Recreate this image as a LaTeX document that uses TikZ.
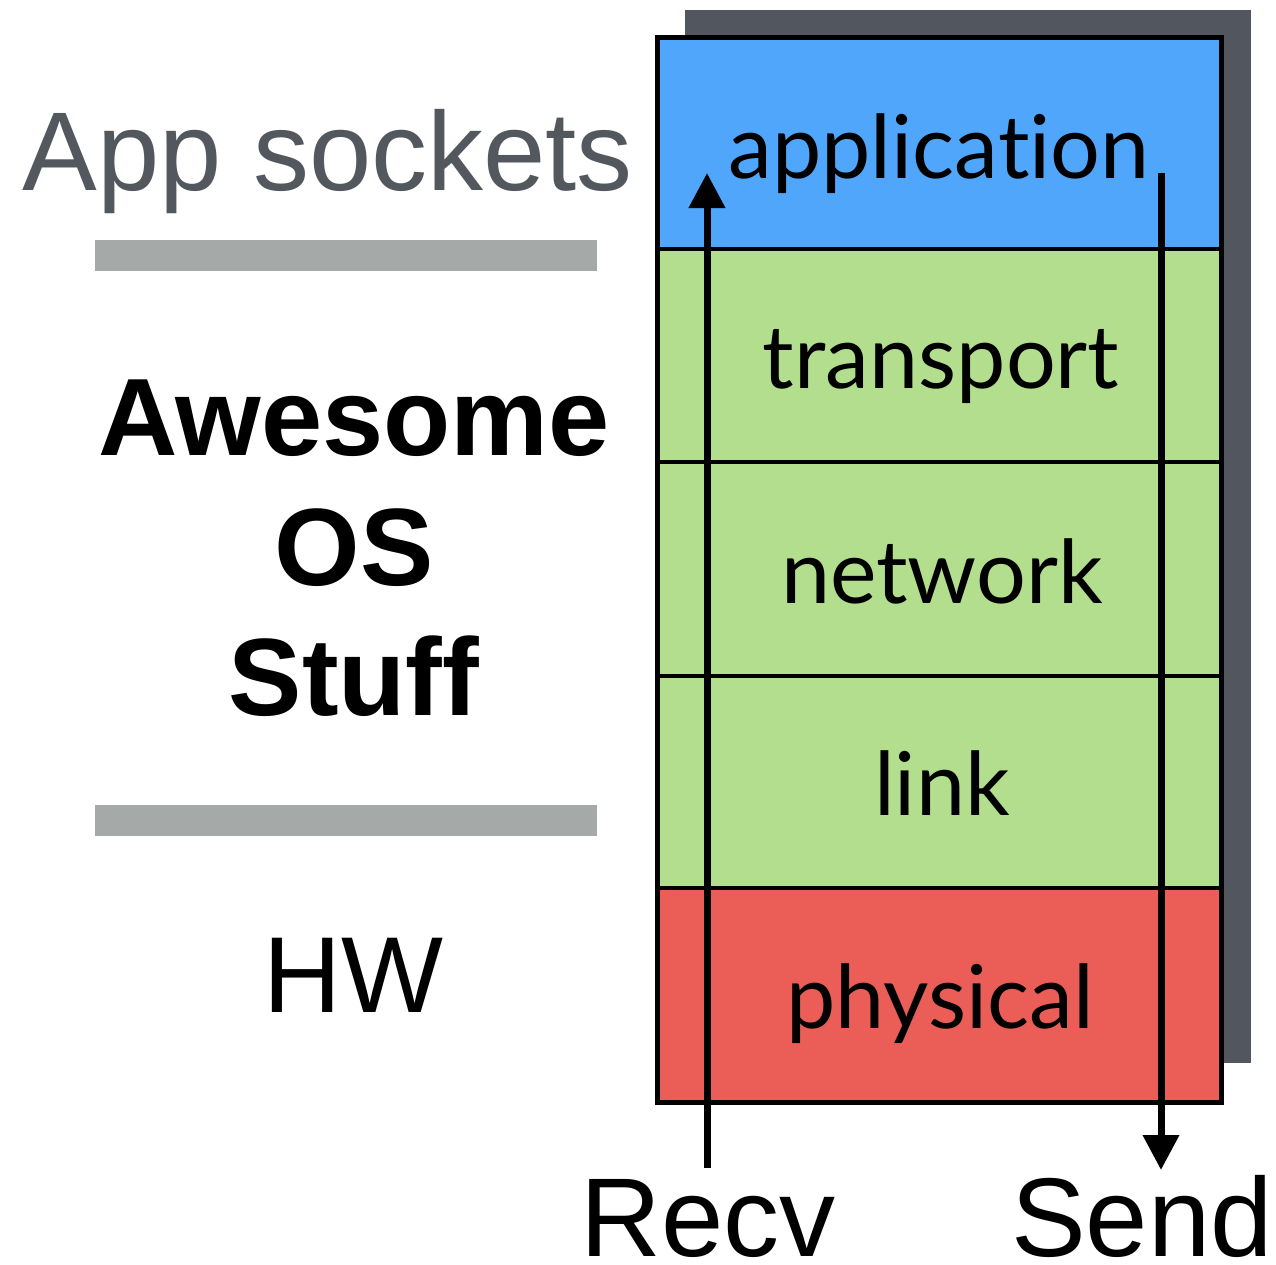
\documentclass[tikz,border=0pt]{standalone}
\usepackage{fontspec}
\setmainfont{Liberation Sans}
\newfontfamily\layerfont[Ligatures={NoCommon}]{Lato}
\usetikzlibrary{arrows.meta}

\definecolor{appblue}{HTML}{50A6FA}
\definecolor{midgreen}{HTML}{B3DE8D}
\definecolor{hwred}{HTML}{EB5D57}
\definecolor{shadowgray}{HTML}{52565E}
\definecolor{bargray}{HTML}{A5A9A8}
\definecolor{sockgray}{HTML}{53585F}

\tikzset{
  layerbox/.style={draw=black, line width=2pt},
  layerlabel/.style={font=\layerfont\fontsize{44pt}{50pt}\selectfont, anchor=base, inner sep=0pt},
  sidetext/.style={font=\fontsize{56pt}{65pt}\selectfont, anchor=base, inner sep=0pt},
  bigbold/.style={font=\bfseries\fontsize{55pt}{65pt}\selectfont, anchor=base, inner sep=0pt},
  flow/.style={line width=3.5pt, -{Triangle[length=17.5pt,width=17.5pt]}},
  divider/.style={fill=bargray, draw=none}
}

\begin{document}
\begin{tikzpicture}[x=0.5pt, y=-0.5pt]
  \useasboundingbox (0,0) rectangle (1276,1265);

  % drop shadow behind the stack
  \fill[shadowgray] (685,10) rectangle (1251,1063);

  % protocol layers
  \draw[layerbox, fill=appblue]  (657,37)  rectangle (1221,249);
  \draw[layerbox, fill=midgreen] (657,249) rectangle (1221,462);
  \draw[layerbox, fill=midgreen] (657,462) rectangle (1221,676);
  \draw[layerbox, fill=midgreen] (657,676) rectangle (1221,888);
  \draw[layerbox, fill=hwred]    (657,888) rectangle (1221,1102);
  \draw[line width=2.5pt] (657,37) rectangle (1221,1102);

  \node[layerlabel] (lapp)  at (939,178)  {application};
  \node[layerlabel] (ltrn)  at (941,388)  {transport};
  \node[layerlabel] (lnet)  at (942,603)  {network};
  \node[layerlabel] (llnk)  at (942,815)  {link};
  \node[layerlabel] (lphy)  at (940,1028) {physical};

  % receive and send paths
  \coordinate (recvfoot) at (707,1168);
  \coordinate (recvtip)  at (707,173);
  \coordinate (sendtop)  at (1161,173);
  \coordinate (sendtip)  at (1161,1170);
  \draw[flow] (recvfoot) -- (recvtip);
  \draw[flow] (sendtop) -- (sendtip);

  \node[sidetext, text depth=0pt] (recv) at (708,1256) {Recv};
  \node[sidetext, text depth=0pt] (send) at (1142,1256) {Send};

  % left-hand annotations
  \node[sidetext, text=sockgray] (sockets) at (328,190) {App sockets};
  \fill[divider] (95,240) rectangle (597,271);
  \node[bigbold] (aw) at (354,455) {Awesome};
  \node[bigbold] (os) at (354,585) {OS};
  \node[bigbold] (st) at (354,715) {Stuff};
  \fill[divider] (95,805) rectangle (597,836);
  \node[sidetext, font=\fontsize{54pt}{60pt}\selectfont] (hw) at (353,1012) {HW};
\end{tikzpicture}
\end{document}
